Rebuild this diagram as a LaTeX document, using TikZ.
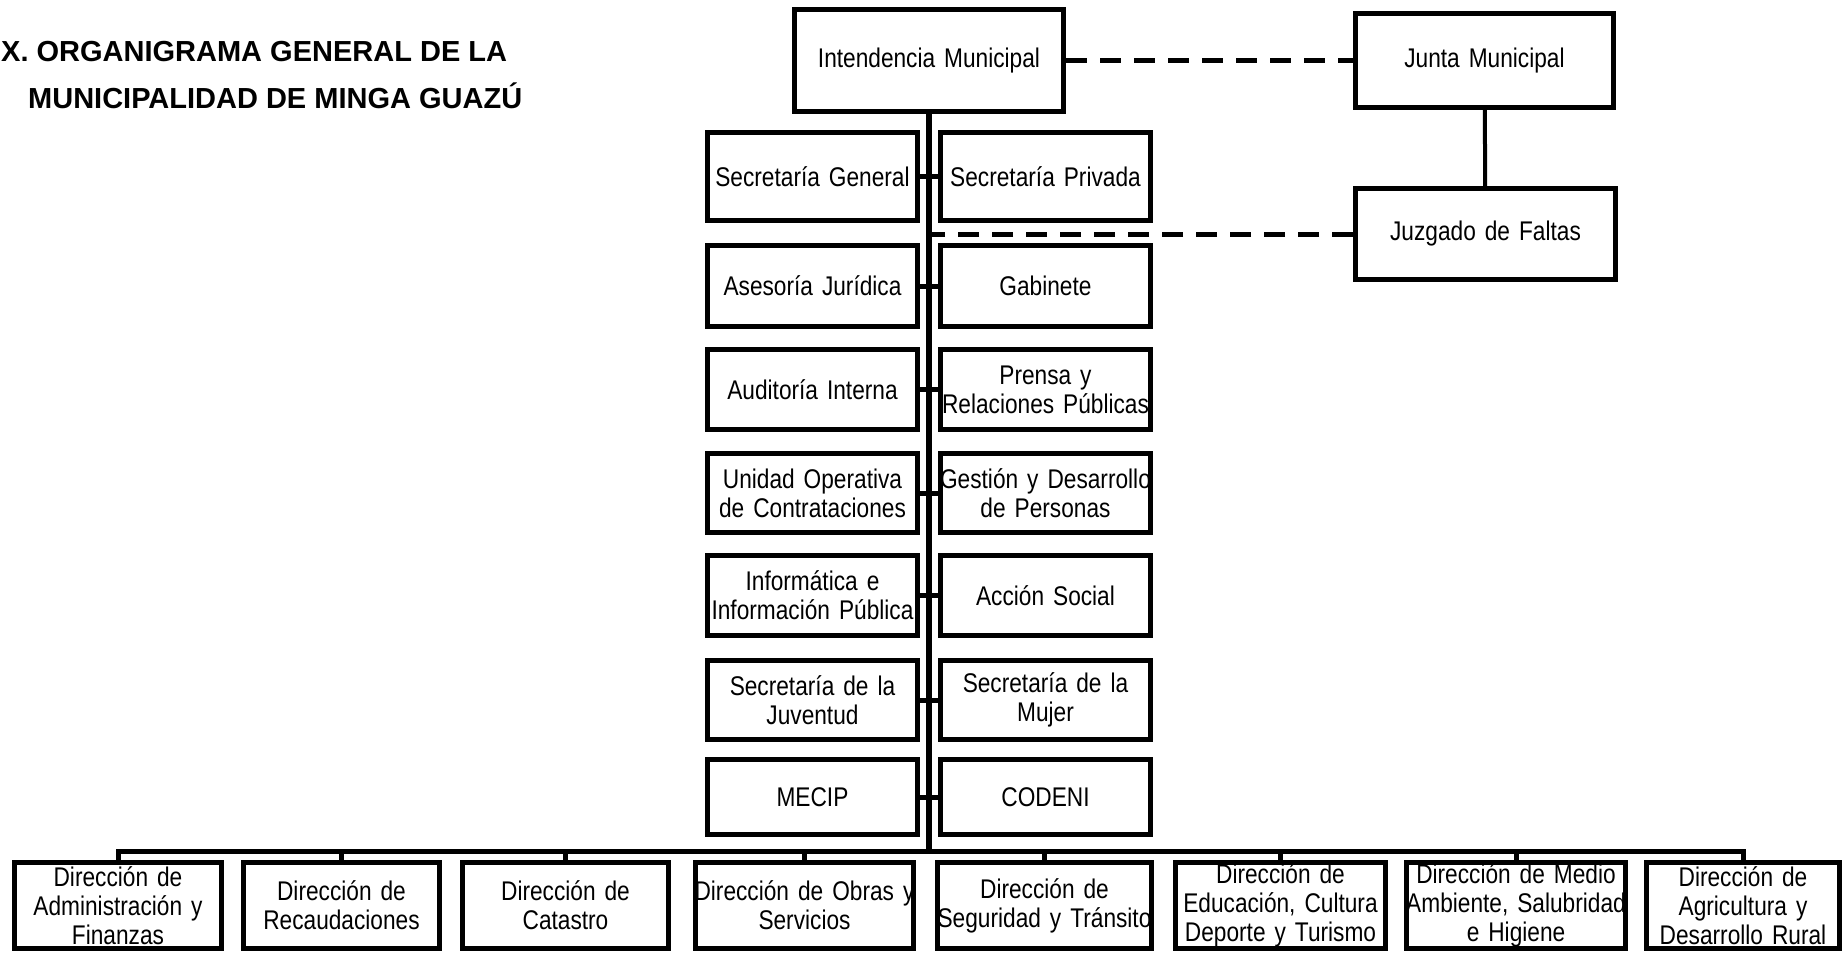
\documentclass[tikz,border=0pt]{standalone}
\usepackage{fontspec}
\setmainfont{Liberation Sans}
\newfontfamily\boxfont{Liberation Sans}[FakeStretch=0.84,WordSpace=0.84]
\usepackage{tikz}
\usetikzlibrary{calc}

\begin{document}
\begin{tikzpicture}[x=1bp,y=-1bp,line join=miter,
  box/.style={draw,line width=5bp,text width=260bp,inner xsep=-130bp,inner ysep=-20bp,
    align=center,font=\boxfont\fontsize{27bp}{29bp}\selectfont},
  col/.style={box,minimum width=210bp},
  link/.style={line width=5bp},
  dashlink/.style={line width=5bp,dash pattern=on 21bp off 13bp},
]
\useasboundingbox (0,0) rectangle (1845,954);
%%
\node (tit1) at (1,61) [anchor=base west,inner sep=0pt,font=\bfseries\fontsize{29bp}{29bp}\selectfont] {X. ORGANIGRAMA GENERAL DE LA};
\node (tit2) at (28,108) [anchor=base west,inner sep=0pt,font=\bfseries\fontsize{29bp}{29bp}\selectfont] {MUNICIPALIDAD DE MINGA GUAZÚ};
%
\node (intend) at (929,60.5) [box,minimum width=269bp,minimum height=102bp] {Intendencia Municipal};
\node (junta) at (1484.5,60.5) [box,minimum width=258bp,minimum height=94bp] {Junta Municipal};
\node (juzgado) at (1485.5,234) [box,minimum width=260bp,minimum height=91bp] {Juzgado de Faltas};
%
\node (sgen) at (812.5,176.5) [col,minimum height=88bp] {Secretaría General};
\node (spriv) at (1045.5,176.5) [col,minimum height=88bp] {Secretaría Privada};
\node (asesor) at (812.5,286) [col,minimum height=81bp] {Asesoría Jurídica};
\node (gabin) at (1045.5,286) [col,minimum height=81bp] {Gabinete};
\node (audit) at (812.5,389.5) [col,minimum height=80bp] {Auditoría Interna};
\node (prensa) at (1045.5,389.5) [col,minimum height=80bp] {Prensa y\\Relaciones Públicas};
\node (uoc) at (812.5,493) [col,minimum height=79bp] {Unidad Operativa\\de Contrataciones};
\node (gdp) at (1045.5,493) [col,minimum height=79bp] {Gestión y Desarrollo\\de Personas};
\node (infor) at (812.5,595.5) [col,minimum height=80bp] {Informática e\\Información Pública};
\node (accion) at (1045.5,595.5) [col,minimum height=80bp] {Acción Social};
\node (juven) at (812.5,700) [col,minimum height=79bp] {Secretaría de la\\Juventud};
\node (mujer) at (1045.5,700) [col,minimum height=79bp] {Secretaría de la\\Mujer};
\node (mecip) at (812.5,797) [col,minimum height=75bp] {MECIP};
\node (codeni) at (1045.5,797) [col,minimum height=75bp] {CODENI};
%
\node (adm) at (118,905.5) [box,minimum width=207bp,minimum height=86bp] {Dirección de\\Administración y\\Finanzas};
\node (recaud) at (341.5,905.5) [box,minimum width=196bp,minimum height=86bp] {Dirección de\\Recaudaciones};
\node (catas) at (565.5,905.5) [box,minimum width=206bp,minimum height=86bp] {Dirección de\\Catastro};
\node (obras) at (804.5,905.5) [box,minimum width=218bp,minimum height=86bp] {Dirección de Obras y\\Servicios};
\node (segur) at (1044.5,905.5) [box,minimum width=214bp,minimum height=86bp] {Dirección de\\Seguridad y Tránsito};
\node (educ) at (1280.5,905.5) [box,minimum width=210bp,minimum height=86bp] {Dirección de\\Educación, Cultura\\Deporte y Turismo};
\node (medio) at (1516,905.5) [box,minimum width=219bp,minimum height=86bp] {Dirección de Medio\\Ambiente, Salubridad\\e Higiene};
\node (agri) at (1743,905.5) [box,minimum width=193bp,minimum height=86bp] {Dirección de\\Agricultura y\\Desarrollo Rural};
%
\coordinate (bus) at (929,851);
\draw [solid,line width=6bp] (intend) -- (bus);
\draw [dashlink] (intend.east) -- (junta.west);
\draw [solid,line width=4bp] (junta) -- (juzgado);
\draw [dashlink] (juzgado.west) -- (juzgado.west -| intend.south);
%
\draw [link] (sgen.east) -- (spriv.west);
\draw [link] (asesor.east) -- (gabin.west);
\draw [link] (audit.east) -- (prensa.west);
\draw [link] (uoc.east) -- (gdp.west);
\draw [link] (infor.east) -- (accion.west);
\draw [link] (juven.east) -- (mujer.west);
\draw [link] (mecip.east) -- (codeni.west);
%
\draw [link] (bus) -| (adm.north);
\draw [link] (bus) -| (recaud.north);
\draw [link] (bus) -| (catas.north);
\draw [link] (bus) -| (obras.north);
\draw [link] (bus) -| (segur.north);
\draw [link] (bus) -| (educ.north);
\draw [link] (bus) -| (medio.north);
\draw [link] (bus) -| (agri.north);
%
\end{tikzpicture}
\end{document}
